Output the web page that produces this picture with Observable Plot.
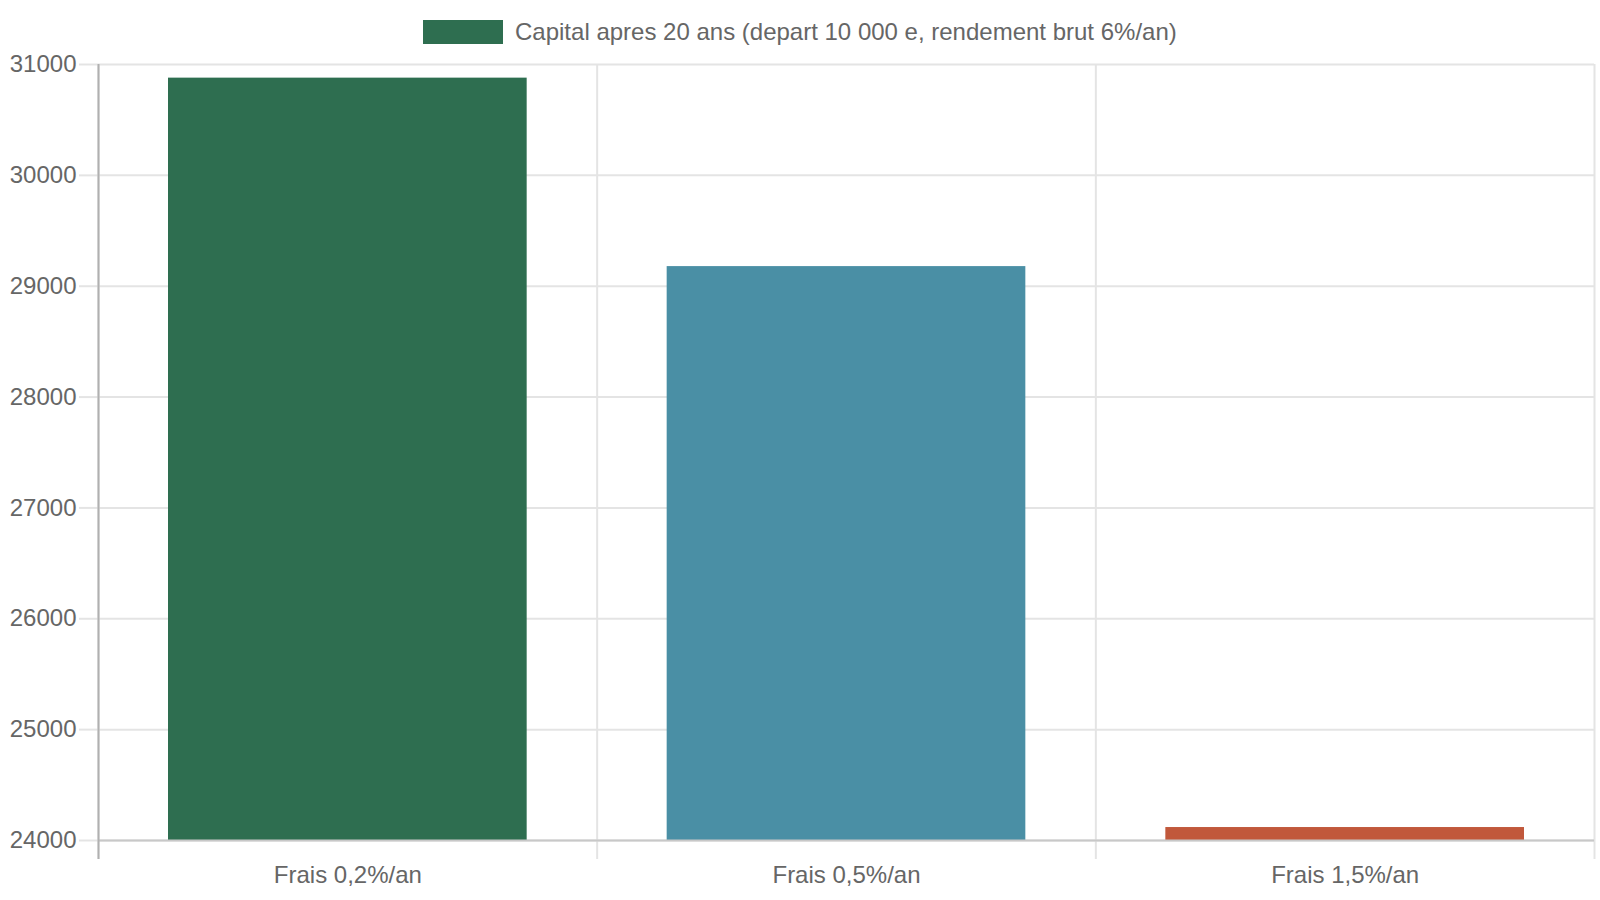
<!DOCTYPE html>
<html>
<head>
<meta charset="utf-8">
<script src="https://cdn.jsdelivr.net/npm/d3@7"></script>
<script src="https://cdn.jsdelivr.net/npm/@observablehq/plot@0.6"></script>
<style>
  html, body { margin: 0; padding: 0; background: #fff; overflow: hidden; }
  body { width: 1600px; height: 900px; font-family: "Liberation Sans", Arial, sans-serif; }
  #legend { height: 50px; position: relative; }
  #legend .sw { position: absolute; left: 423px; top: 20px; width: 80px; height: 24px; }
  #legend .lb { position: absolute; left: 515px; top: 17px; font-size: 24px; color: #666; white-space: nowrap; line-height: 30px; }
  #chart svg { display: block; max-width: none !important; width: 1600px !important; height: 850px !important; overflow: visible; }
</style>
</head>
<body>
<div id="legend"><div class="sw"></div><div class="lb"></div></div>
<div id="chart"></div>
<script>
const legendLabel = "Capital apres 20 ans (depart 10 000 e, rendement brut 6%/an)";
const categories = ["Frais 0,2%/an", "Frais 0,5%/an", "Frais 1,5%/an"];
const values = [30877, 29177, 24117];
const colors = ["#2e6e50", "#4a8fa5", "#c1583b"];
const yTicks = [24000, 25000, 26000, 27000, 28000, 29000, 30000, 31000];

document.querySelector("#legend .sw").style.background = colors[0];
document.querySelector("#legend .lb").textContent = legendLabel;

const data = categories.map((c, i) => ({ cat: c, i, value: values[i], color: colors[i] }));
const bounds = d3.range(categories.length + 1);
const centers = categories.map((c, i) => i + 0.5);

const chart = Plot.plot({
  width: 1600,
  height: 850,
  marginTop: 14,
  marginBottom: 60,
  marginLeft: 98,
  marginRight: 6,
  style: { fontFamily: "Liberation Sans, Arial, sans-serif", fontSize: "24px", color: "#666", background: "#fff", maxWidth: "none", overflow: "visible" },
  x: { type: "linear", domain: [0, categories.length], label: null },
  y: { domain: [24000, 31000], nice: false, label: null },
  marks: [
    // horizontal grid + left ticks
    Plot.axisY({ ticks: yTicks, tickSize: 19, tickPadding: 3, stroke: "#e4e4e4", strokeWidth: 2, tickFormat: d => String(d), fill: "#666", label: null }),
    Plot.gridY(yTicks, { stroke: "#e4e4e4", strokeOpacity: 1, strokeWidth: 2 }),
    // vertical category boundaries
    Plot.gridX(bounds, { stroke: "#e4e4e4", strokeOpacity: 1, strokeWidth: 2 }),
    Plot.axisX({ ticks: bounds, tickSize: 19, tickFormat: () => "", stroke: "#e4e4e4", strokeWidth: 2, label: null }),
    Plot.axisX({ ticks: centers, tickSize: 0, tickPadding: 25, tickFormat: d => categories[Math.floor(d)], fill: "#666", label: null }),
    // bars
    Plot.rectY(data, { x1: "i", x2: d => d.i + 1, y1: 24000, y2: "value", fill: "color", insetLeft: 70, insetRight: 70 }),
    // axis lines
    Plot.ruleY([24000], { stroke: "#c8c8c8", strokeWidth: 2 }),
    Plot.ruleX([0], { stroke: "#b0b0b0", strokeWidth: 2, insetBottom: -19 })
  ]
});
document.getElementById("chart").appendChild(chart);
</script>
</body>
</html>
